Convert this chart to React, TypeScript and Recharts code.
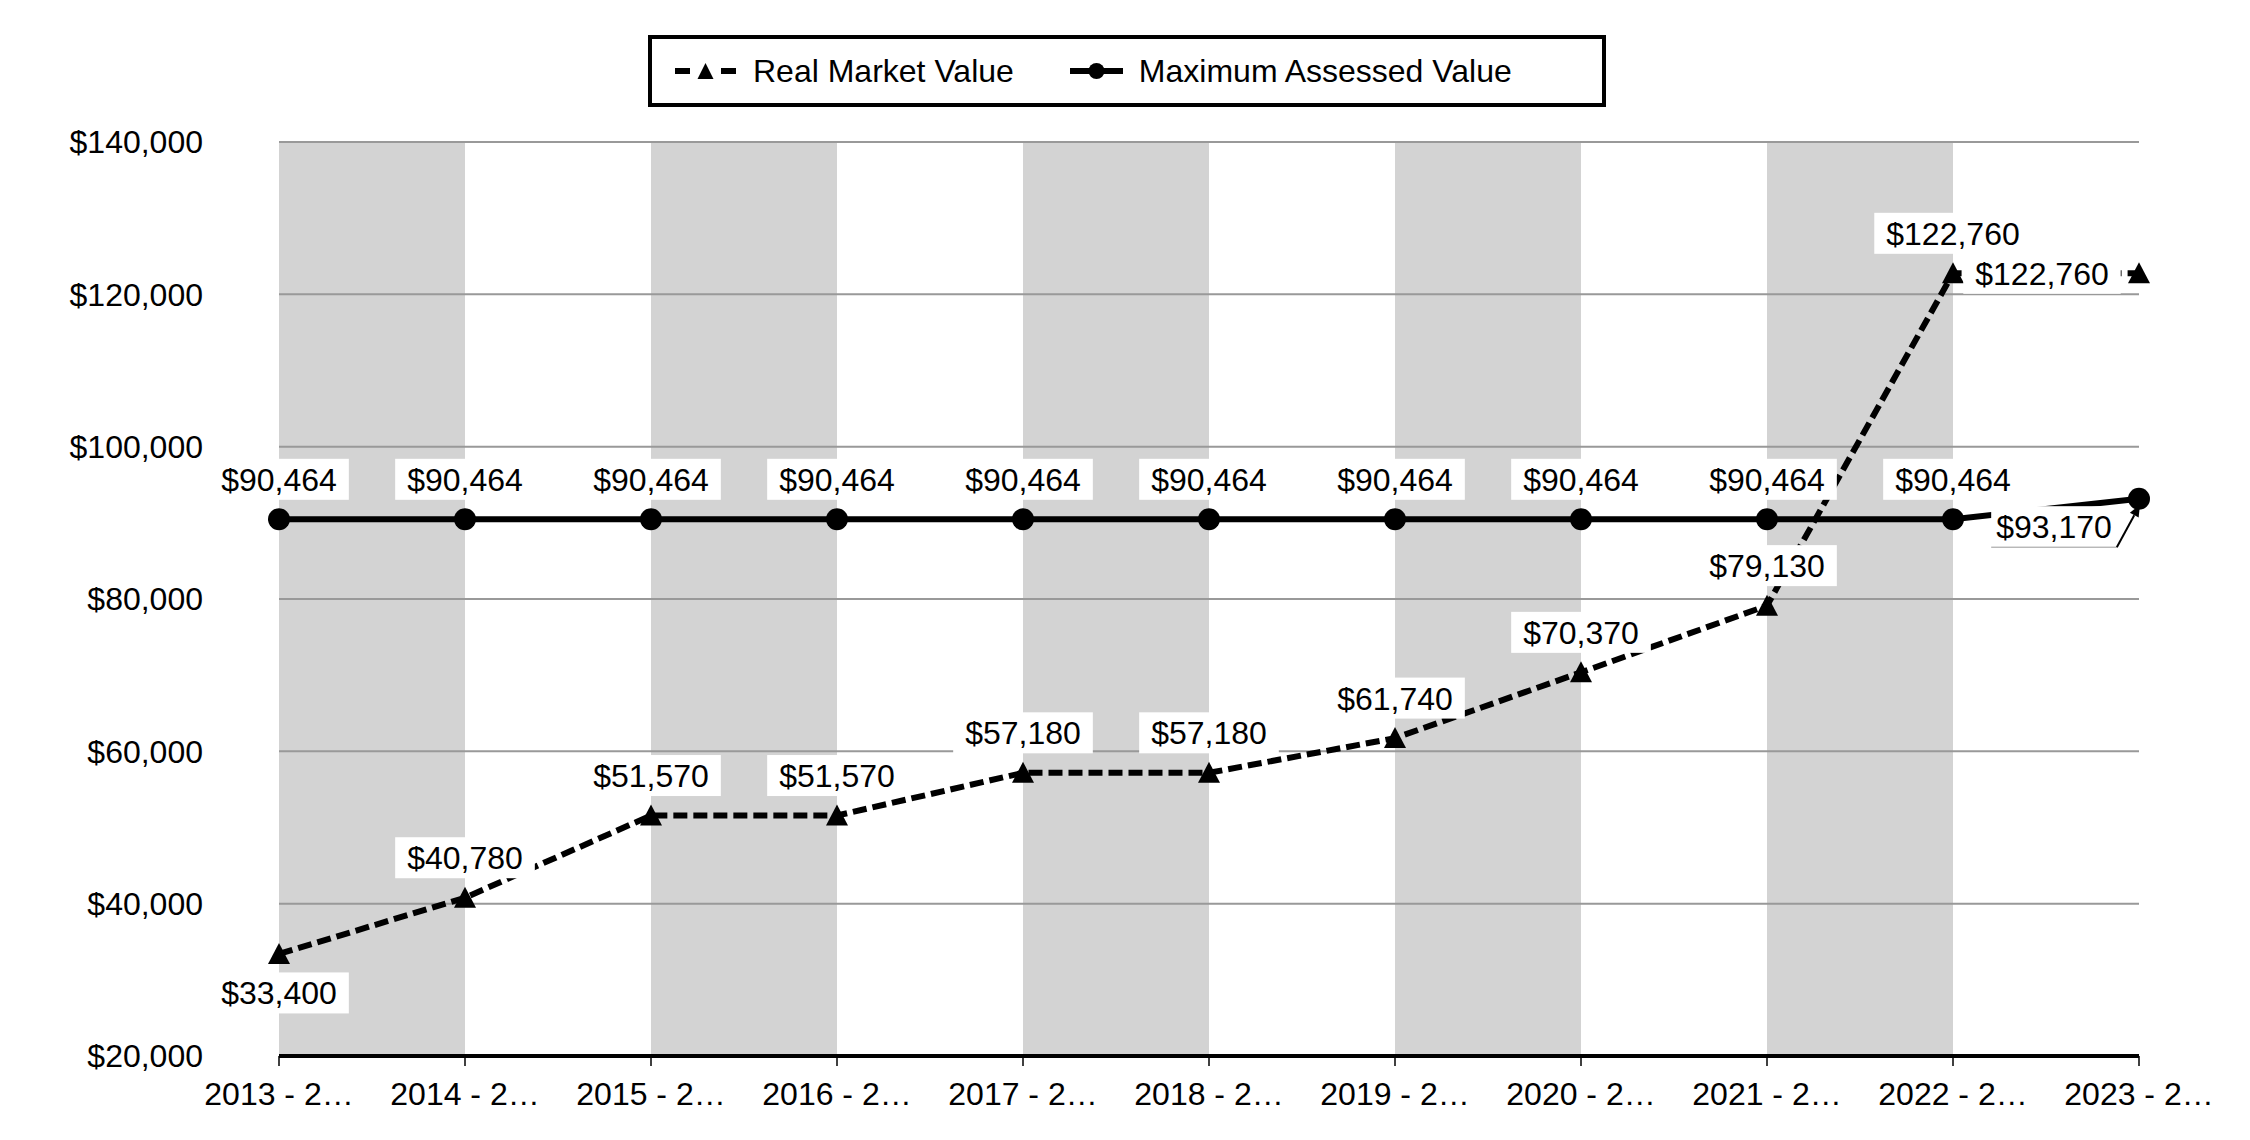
import { LineChart, Line, XAxis, YAxis, CartesianGrid, Legend, LabelList } from 'recharts';

const periods = [
  '2013 - 2014', '2014 - 2015', '2015 - 2016', '2016 - 2017', '2017 - 2018', '2018 - 2019',
  '2019 - 2020', '2020 - 2021', '2021 - 2022', '2022 - 2023', '2023 - 2024',
];
const realMarketValue = [33400, 40780, 51570, 51570, 57180, 57180, 61740, 70370, 79130, 122760, 122760];
const maxAssessedValue = [90464, 90464, 90464, 90464, 90464, 90464, 90464, 90464, 90464, 90464, 93170];
const yTicks = [20000, 40000, 60000, 80000, 100000, 120000, 140000];

// where each value label sits relative to its point
const rmvLabelSpots = ['below', 'above', 'above', 'above', 'above', 'above', 'above', 'above', 'above', 'above', 'left'];
const mavLabelSpots = ['above', 'above', 'above', 'above', 'above', 'above', 'above', 'above', 'above', 'above', 'callout'];

const data = periods.map((period, i) => ({
  period,
  rmv: realMarketValue[i],
  mav: maxAssessedValue[i],
}));

const FONT = "'Liberation Sans', Arial, sans-serif";
const FONT_SIZE = 32;

const money = (v: number) => `$${v.toLocaleString('en-US')}`;
const textWidth = (s: string) =>
  s.split('').reduce((w, c) => w + (c === ',' ? 0.278 : 0.556), 0) * FONT_SIZE;

const makeLabel = (spots: string[]) => (props: any) => {
  const { index, value } = props;
  const x = props.x ?? props.viewBox?.x;
  const y = props.y ?? props.viewBox?.y;
  if (x == null || y == null) return null;
  const text = money(value);
  const spot = spots[index];
  let cx = x;
  let cy = y;
  let pad = 12;
  if (spot === 'above') cy = y - 40;
  else if (spot === 'below') cy = y + 39;
  else if (spot === 'left') cx = x - 97;
  else if (spot === 'callout') {
    cx = x - 85;
    cy = y + 28;
    pad = 5;
  }
  const w = textWidth(text) + pad * 2;
  const h = 41;
  const left = cx - w / 2;
  const bottom = cy + h / 2;

  let callout = null;
  if (spot === 'callout') {
    const sx = left + w;
    const sy = bottom;
    const tx = x + 1;
    const ty = y + 6;
    const len = Math.hypot(tx - sx, ty - sy);
    const ux = (tx - sx) / len;
    const uy = (ty - sy) / len;
    const bx = tx - ux * 12;
    const by = ty - uy * 12;
    callout = (
      <g>
        <line x1={left} y1={bottom} x2={sx} y2={sy} stroke="#999" strokeWidth={1} />
        <line x1={sx} y1={sy} x2={bx} y2={by} stroke="#000" strokeWidth={2} />
        <polygon
          points={`${tx},${ty} ${bx - uy * 5},${by + ux * 5} ${bx + uy * 5},${by - ux * 5}`}
          fill="#000"
        />
      </g>
    );
  }

  return (
    <g key={`lbl-${index}`}>
      <rect x={left} y={cy - h / 2} width={w} height={h} fill="#fff" />
      {callout}
      <text x={cx} y={cy} dy="0.36em" textAnchor="middle" fill="#000" fontSize={FONT_SIZE} fontFamily={FONT}>
        {text}
      </text>
    </g>
  );
};

const TriangleDot = (props: any) => {
  const { cx, cy, index } = props;
  if (cx == null || cy == null) return null;
  return <polygon key={`tri-${index}`} points={`${cx},${cy - 11} ${cx - 11},${cy + 10} ${cx + 11},${cy + 10}`} fill="#000" />;
};

const CircleDot = (props: any) => {
  const { cx, cy, index } = props;
  if (cx == null || cy == null) return null;
  return <circle key={`dot-${index}`} cx={cx} cy={cy} r={11} fill="#000" />;
};

const renderLegend = () => (
  <div
    style={{
      boxSizing: 'border-box',
      width: 958,
      height: 72,
      border: '4px solid #000',
      background: '#fff',
      display: 'flex',
      alignItems: 'center',
      paddingLeft: 23,
      fontFamily: FONT,
      fontSize: FONT_SIZE,
      color: '#000',
    }}
  >
    <svg width={61} height={20}>
      <rect x={0} y={7} width={15} height={6} fill="#000" />
      <polygon points="30.5,2 22.5,18 38.5,18" fill="#000" />
      <rect x={46} y={7} width={15} height={6} fill="#000" />
    </svg>
    <span style={{ marginLeft: 17 }}>Real Market Value</span>
    <svg width={53} height={24} style={{ marginLeft: 56 }}>
      <rect x={0} y={9} width={53} height={6} fill="#000" />
      <circle cx={26.5} cy={12} r={8} fill="#000" />
    </svg>
    <span style={{ marginLeft: 16 }}>Maximum Assessed Value</span>
  </div>
);

export default function App() {
  return (
    <div style={{ fontFamily: FONT }}>
      <LineChart width={2234} height={1124} data={data} margin={{ top: 134, right: 103, bottom: 16, left: 5 }}>
        {/* alternating year bands */}
        <CartesianGrid horizontal={false} stroke="none" verticalFill={['#d3d3d3', '#ffffff']} />
        <CartesianGrid vertical={false} stroke="#999" strokeWidth={2} />
        <XAxis
          dataKey="period"
          interval={0}
          tickFormatter={(p: string) => `${p.slice(0, 8)}…`}
          tick={{ fill: '#000', fontSize: FONT_SIZE, fontFamily: FONT }}
          tickSize={10}
          tickMargin={16}
          height={60}
          axisLine={{ stroke: '#000', strokeWidth: 4 }}
          tickLine={{ stroke: '#000', strokeWidth: 1.5 }}
        />
        <YAxis
          domain={[20000, 140000]}
          ticks={yTicks}
          interval={0}
          width={266}
          axisLine={false}
          tickLine={false}
          tickSize={0}
          tickMargin={76}
          tickFormatter={money}
          tick={{ fill: '#000', fontSize: FONT_SIZE, fontFamily: FONT }}
        />
        <Legend
          verticalAlign="middle"
          align="center"
          layout="horizontal"
          content={renderLegend}
          wrapperStyle={{ top: 27, left: 640, width: 958, height: 72 }}
        />
        <Line
          type="linear"
          dataKey="rmv"
          name="Real Market Value"
          stroke="#000"
          strokeWidth={6}
          strokeDasharray="14 6"
          dot={TriangleDot}
          activeDot={false}
          isAnimationActive={false}
        >
          <LabelList dataKey="rmv" content={makeLabel(rmvLabelSpots)} />
        </Line>
        <Line
          type="linear"
          dataKey="mav"
          name="Maximum Assessed Value"
          stroke="#000"
          strokeWidth={6}
          dot={CircleDot}
          activeDot={false}
          isAnimationActive={false}
        >
          <LabelList dataKey="mav" content={makeLabel(mavLabelSpots)} />
        </Line>
      </LineChart>
    </div>
  );
}
